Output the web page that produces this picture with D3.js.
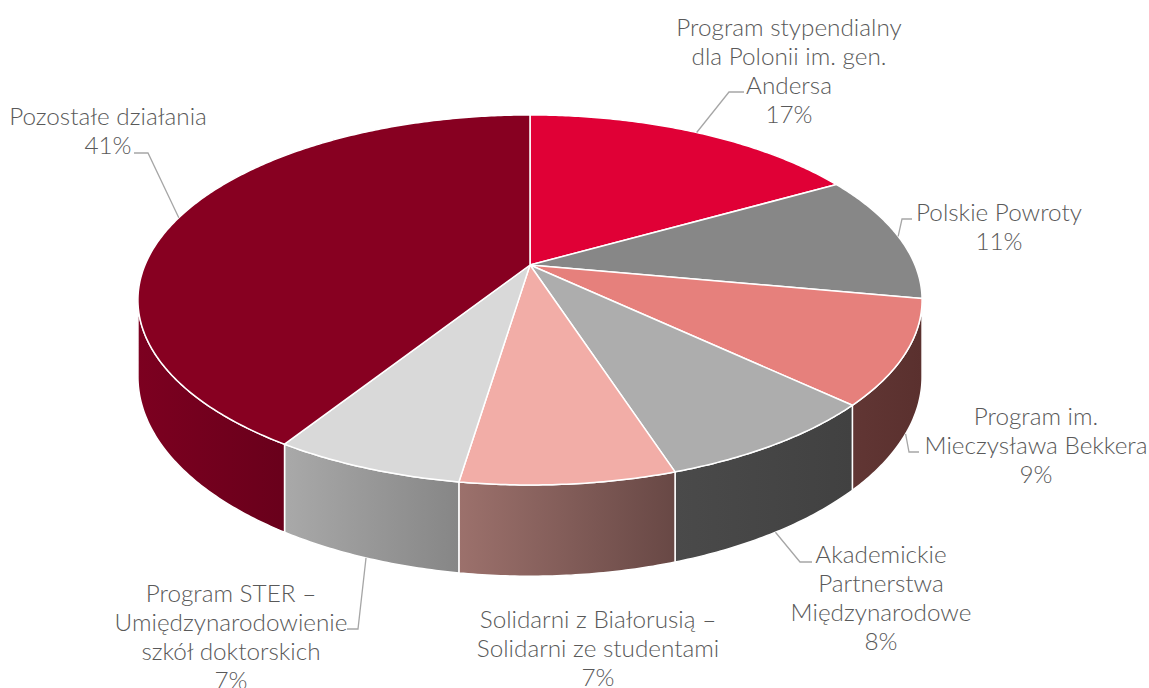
<!DOCTYPE html>
<html>
<head>
<meta charset="utf-8">
<script src="https://cdn.jsdelivr.net/npm/d3@7"></script>
<style>
  html, body { margin: 0; padding: 0; background: #fff; }
  svg { display: block; }
  text { font-family: Lato, "Open Sans", sans-serif; font-weight: 300; fill: #595959; }
</style>
</head>
<body>
<svg id="chart"></svg>
<script>
const width = 1149;
const height = 688;

// data
const categories = [
    ["Program stypendialny", "dla Polonii im. gen.", "Andersa"],
    ["Polskie Powroty"],
    ["Program im.", "Mieczysława Bekkera"],
    ["Akademickie", "Partnerstwa", "Międzynarodowe"],
    ["Solidarni z Białorusią –", "Solidarni ze studentami"],
    ["Program STER –", "Umiędzynarodowienie", "szkół doktorskich"],
    ["Pozostałe działania"]
];
const values = [16.8, 11.1, 9.1, 8.0, 7.4, 6.6, 41.0];

// colours: top face, wall gradient (left, right)
const topColors = ["#e00036", "#878787", "#e6807c", "#adadad", "#f2ada7", "#d9d9d9", "#870021"];
const wallColors = [
    ["#8a0022", "#7a001e"],
    ["#5e5e5e", "#555555"],
    ["#613634", "#5a302e"],
    ["#4a4a4a", "#414141"],
    ["#9c716c", "#684845"],
    ["#a9a9a9", "#868686"],
    ["#7c0020", "#69001b"]
];

// label layout: centre x, first baseline y, leader elbow + end (null = no leader)
const labelLayout = [
    { x: 789, y: 36, leader: [[729, 92], [744, 92]] },
    { x: 999, y: 221, leader: [[902, 219], [912, 219]] },
    { x: 1036, y: 425, leader: [[909, 452], [919, 452]] },
    { x: 881, y: 563, leader: [[800, 562], [812, 562]] },
    { x: 598, y: 628, leader: null },
    { x: 231, y: 602, leader: [[358, 629], [347, 629]] },
    { x: 108, y: 125, leader: [[148, 153], [134, 153]] }
];

// perspective projection of the pie disc
const cx = 530, cy = 265;
const rx = 385, ry = 178.4, persp = 0.189, depth = 74;

function rim(theta, lower) {
    const u = Math.cos(theta), v = Math.sin(theta);
    const den = 1 - persp * v;
    return [cx + rx * u / den, cy + ry * v / den + (lower ? depth / den : 0)];
}

const svg = d3.select("#chart")
    .attr("width", width)
    .attr("height", height);

const defs = svg.append("defs");

const pie = d3.pie().sort(null).value(d => d)(values);
const total = d3.sum(values);
const pct = d3.format(".0%");

const visLo = Math.asin(persp);
const visHi = Math.PI - visLo;

function arcPoints(t0, t1, lower) {
    const n = Math.max(2, Math.ceil(Math.abs(t1 - t0) / 0.01));
    return d3.range(n + 1).map(i => rim(t0 + (t1 - t0) * i / n, lower));
}

const line = d3.line();

// walls
const walls = svg.append("g");
pie.forEach((p, i) => {
    const t0 = Math.max(p.startAngle - Math.PI / 2, visLo);
    const t1 = Math.min(p.endAngle - Math.PI / 2, visHi);
    if (t1 <= t0) return;
    const grad = defs.append("linearGradient")
        .attr("id", "wall" + i)
        .attr("x1", 0).attr("x2", 1).attr("y1", 0).attr("y2", 0);
    grad.append("stop").attr("offset", 0).attr("stop-color", wallColors[i][0]);
    grad.append("stop").attr("offset", 1).attr("stop-color", wallColors[i][1]);
    const pts = arcPoints(t0, t1, false).concat(arcPoints(t1, t0, true));
    walls.append("path")
        .attr("d", line(pts) + "Z")
        .attr("fill", `url(#wall${i})`)
        .attr("stroke", "#fff")
        .attr("stroke-width", 1.5)
        .attr("stroke-linejoin", "round");
});

// top faces
const tops = svg.append("g");
pie.forEach((p, i) => {
    const pts = [[cx, cy]].concat(arcPoints(p.startAngle - Math.PI / 2, p.endAngle - Math.PI / 2, false));
    tops.append("path")
        .attr("d", line(pts) + "Z")
        .attr("fill", topColors[i])
        .attr("stroke", "#fff")
        .attr("stroke-width", 1.5)
        .attr("stroke-linejoin", "round");
});

// leader lines
const leaders = svg.append("g");
pie.forEach((p, i) => {
    const lay = labelLayout[i];
    if (!lay.leader) return;
    const mid = (p.startAngle + p.endAngle) / 2 - Math.PI / 2;
    const front = mid > visLo && mid < visHi;
    const start = rim(mid, front);
    leaders.append("path")
        .attr("d", line([start].concat(lay.leader)))
        .attr("fill", "none")
        .attr("stroke", "#a6a6a6")
        .attr("stroke-width", 1.3);
});

// labels
const labels = svg.append("g");
categories.forEach((lines, i) => {
    const lay = labelLayout[i];
    const t = labels.append("text")
        .attr("text-anchor", "middle")
        .attr("font-size", "24.3px");
    lines.concat([pct(values[i] / total)]).forEach((s, j) => {
        t.append("tspan")
            .attr("x", lay.x)
            .attr("y", lay.y + j * 29)
            .text(s);
    });
});
</script>
</body>
</html>
